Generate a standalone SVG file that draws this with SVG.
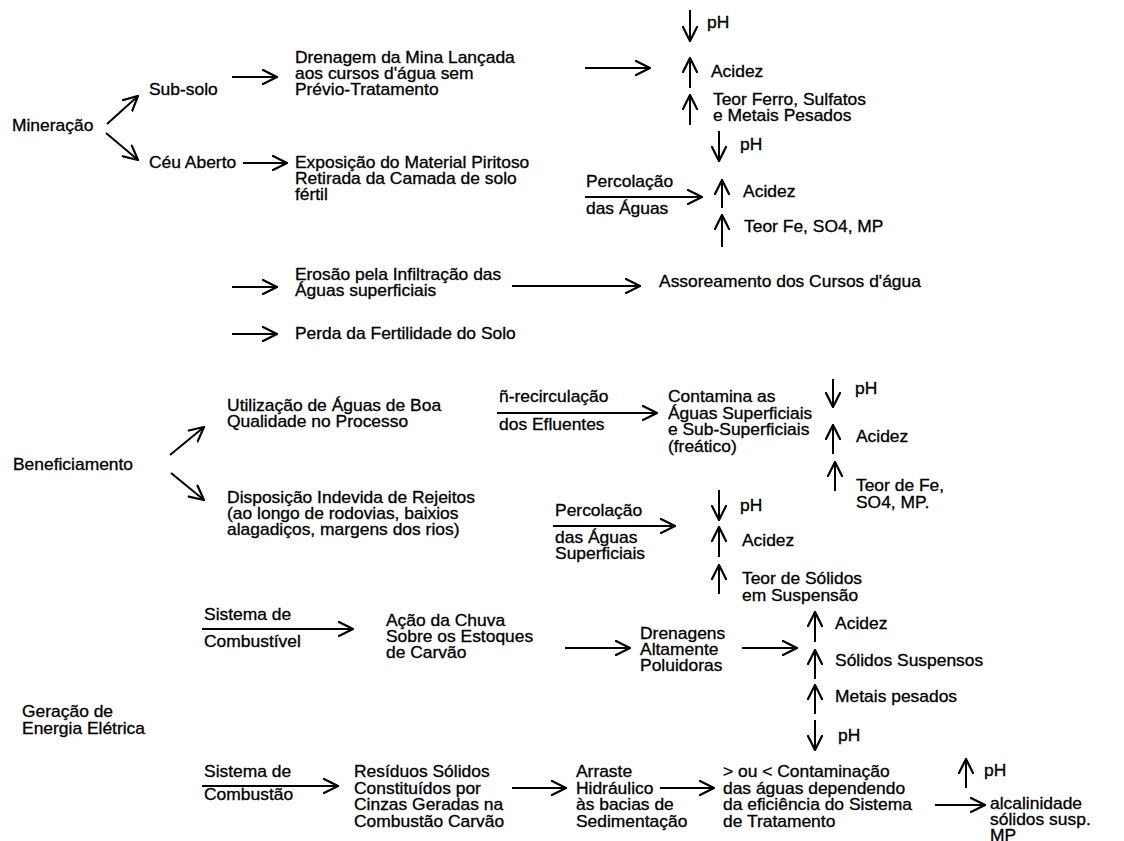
<svg xmlns="http://www.w3.org/2000/svg" width="1124" height="841" viewBox="0 0 1124 841">
<style>
text{font-family:"Liberation Sans",Arial,sans-serif;font-size:16px;fill:#000;stroke:#000;stroke-width:0.3px}
.c line{stroke:#000;stroke-width:2;fill:none;marker-end:url(#ah)}
</style>
<defs>
<marker id="ah" viewBox="0 0 16 16" refX="15" refY="8" markerWidth="16" markerHeight="16" markerUnits="userSpaceOnUse" orient="auto">
<path d="M0,0.5 L15,8 L0,15.5" fill="none" stroke="#000" stroke-width="2.2"/>
</marker>
</defs>
<rect width="1124" height="841" fill="#fff"/>

<g id="nodes" transform="scale(1.09 1)">
<g id="mineracao"><text x="11" y="131">Mineração</text></g>
<g id="subsolo"><text x="136.7" y="95">Sub-solo</text></g>
<g id="ceuaberto"><text x="136.7" y="168">Céu Aberto</text></g>
<g id="drenagem"><text x="270.6" y="63">Drenagem da Mina Lançada</text><text x="270.6" y="79">aos cursos d'água sem</text><text x="270.6" y="95">Prévio-Tratamento</text></g>
<g id="exposicao"><text x="270.6" y="168">Exposição do Material Piritoso</text><text x="270.6" y="184">Retirada da Camada de solo</text><text x="270.6" y="200">fértil</text></g>
<g id="erosao"><text x="270.6" y="280">Erosão pela Infiltração das</text><text x="270.6" y="296">Águas superficiais</text></g>
<g id="assoreamento"><text x="604.6" y="287">Assoreamento dos Cursos d'água</text></g>
<g id="perda"><text x="270.6" y="339">Perda da Fertilidade do Solo</text></g>
<g id="ef1">
<text x="648.6" y="28">pH</text>
<text x="652.3" y="77">Acidez</text>
<text x="654.1" y="105">Teor Ferro, Sulfatos</text><text x="654.1" y="121">e Metais Pesados</text>
</g>
<g id="ef2">
<text x="678.9" y="150">pH</text>
<text x="681.7" y="197">Acidez</text>
<text x="682.6" y="232">Teor Fe, SO4, MP</text>
</g>
<g id="lbl-perc1"><text x="537.6" y="187">Percolação</text><text x="537.6" y="214">das Águas</text></g>

<g id="beneficiamento"><text x="11.9" y="470">Beneficiamento</text></g>
<g id="utilizacao"><text x="208.3" y="411">Utilização de Águas de Boa</text><text x="208.3" y="427">Qualidade no Processo</text></g>
<g id="lbl-recirc"><text x="457.8" y="402">ñ-recirculação</text><text x="457.8" y="430">dos Efluentes</text></g>
<g id="contamina"><text x="612.8" y="402">Contamina as</text><text x="612.8" y="419">Águas Superficiais</text><text x="612.8" y="435">e Sub-Superficiais</text><text x="612.8" y="452">(freático)</text></g>
<g id="ef3">
<text x="784.4" y="394">pH</text>
<text x="785.3" y="442">Acidez</text>
<text x="785.3" y="491">Teor de Fe,</text><text x="785.3" y="508">SO4, MP.</text>
</g>
<g id="disposicao"><text x="208.3" y="503">Disposição Indevida de Rejeitos</text><text x="208.3" y="519">(ao longo de rodovias, baixios</text><text x="208.3" y="535">alagadiços, margens dos rios)</text></g>
<g id="lbl-perc2"><text x="509.2" y="516">Percolação</text><text x="509.2" y="543">das Águas</text><text x="509.2" y="559">Superficiais</text></g>
<g id="ef4">
<text x="678.9" y="511">pH</text>
<text x="680.7" y="546">Acidez</text>
<text x="680.7" y="584">Teor de Sólidos</text><text x="680.7" y="601">em Suspensão</text>
</g>

<g id="geracao"><text x="20.2" y="717">Geração de</text><text x="20.2" y="734">Energia Elétrica</text></g>
<g id="lbl-comb1"><text x="187.2" y="620">Sistema de</text><text x="187.2" y="647">Combustível</text></g>
<g id="acao"><text x="354.1" y="626">Ação da Chuva</text><text x="354.1" y="642">Sobre os Estoques</text><text x="354.1" y="658">de Carvão</text></g>
<g id="drenagens"><text x="587.2" y="639">Drenagens</text><text x="587.2" y="655">Altamente</text><text x="587.2" y="671">Poluidoras</text></g>
<g id="ef5">
<text x="766.1" y="629">Acidez</text>
<text x="766.1" y="666">Sólidos Suspensos</text>
<text x="766.1" y="702">Metais pesados</text>
<text x="768.8" y="741">pH</text>
</g>
<g id="lbl-comb2"><text x="187.2" y="777">Sistema de</text><text x="187.2" y="800">Combustão</text></g>
<g id="residuos"><text x="324.8" y="777">Resíduos Sólidos</text><text x="324.8" y="794">Constituídos por</text><text x="324.8" y="810">Cinzas Geradas na</text><text x="324.8" y="827">Combustão Carvão</text></g>
<g id="arraste"><text x="528.4" y="777">Arraste</text><text x="528.4" y="794">Hidráulico</text><text x="528.4" y="810">às bacias de</text><text x="528.4" y="827">Sedimentação</text></g>
<g id="contaminacao"><text x="663.3" y="777">&gt; ou &lt; Contaminação</text><text x="663.3" y="794">das águas dependendo</text><text x="663.3" y="810">da eficiência do Sistema</text><text x="663.3" y="827">de Tratamento</text></g>
<g id="ef6"><text x="902.8" y="776">pH</text></g>
<g id="alcalinidade"><text x="908.3" y="809">alcalinidade</text><text x="908.3" y="825">sólidos susp.</text><text x="908.3" y="841">MP</text></g>
</g>

<g id="connectors" class="c">
<line x1="107" y1="124" x2="138" y2="96"/>
<line x1="106" y1="133" x2="138" y2="160"/>
<line x1="232" y1="77" x2="277" y2="77"/>
<line x1="243" y1="163" x2="287" y2="163"/>
<line x1="585" y1="68" x2="650" y2="68"/>
<line x1="690" y1="10" x2="690" y2="41"/>
<line x1="690" y1="88" x2="690" y2="58"/>
<line x1="690" y1="125" x2="690" y2="95"/>
<line x1="719" y1="131" x2="719" y2="161"/>
<line x1="585" y1="197" x2="702" y2="197"/>
<line x1="722" y1="208" x2="722" y2="180"/>
<line x1="722" y1="247" x2="722" y2="215"/>
<line x1="232" y1="287" x2="277" y2="287"/>
<line x1="512" y1="286" x2="640" y2="286"/>
<line x1="232" y1="334" x2="277" y2="334"/>
<line x1="170" y1="455" x2="204" y2="427"/>
<line x1="171" y1="473" x2="204" y2="500"/>
<line x1="497" y1="413" x2="657" y2="413"/>
<line x1="833" y1="379" x2="833" y2="407"/>
<line x1="833" y1="454" x2="833" y2="425"/>
<line x1="835" y1="491" x2="835" y2="462"/>
<line x1="553" y1="526" x2="675" y2="526"/>
<line x1="719" y1="490" x2="719" y2="520"/>
<line x1="719" y1="557" x2="719" y2="527"/>
<line x1="719" y1="594" x2="719" y2="565"/>
<line x1="202" y1="629" x2="353" y2="629"/>
<line x1="565" y1="648" x2="630" y2="648"/>
<line x1="742" y1="648" x2="797" y2="648"/>
<line x1="815" y1="642" x2="815" y2="612"/>
<line x1="815" y1="679" x2="815" y2="650"/>
<line x1="815" y1="714" x2="815" y2="685"/>
<line x1="815" y1="720" x2="815" y2="750"/>
<line x1="202" y1="786" x2="338" y2="786"/>
<line x1="512" y1="788" x2="566" y2="788"/>
<line x1="660" y1="788" x2="714" y2="788"/>
<line x1="966" y1="788" x2="966" y2="759"/>
<line x1="935" y1="805" x2="985" y2="805"/>
</g>
</svg>
